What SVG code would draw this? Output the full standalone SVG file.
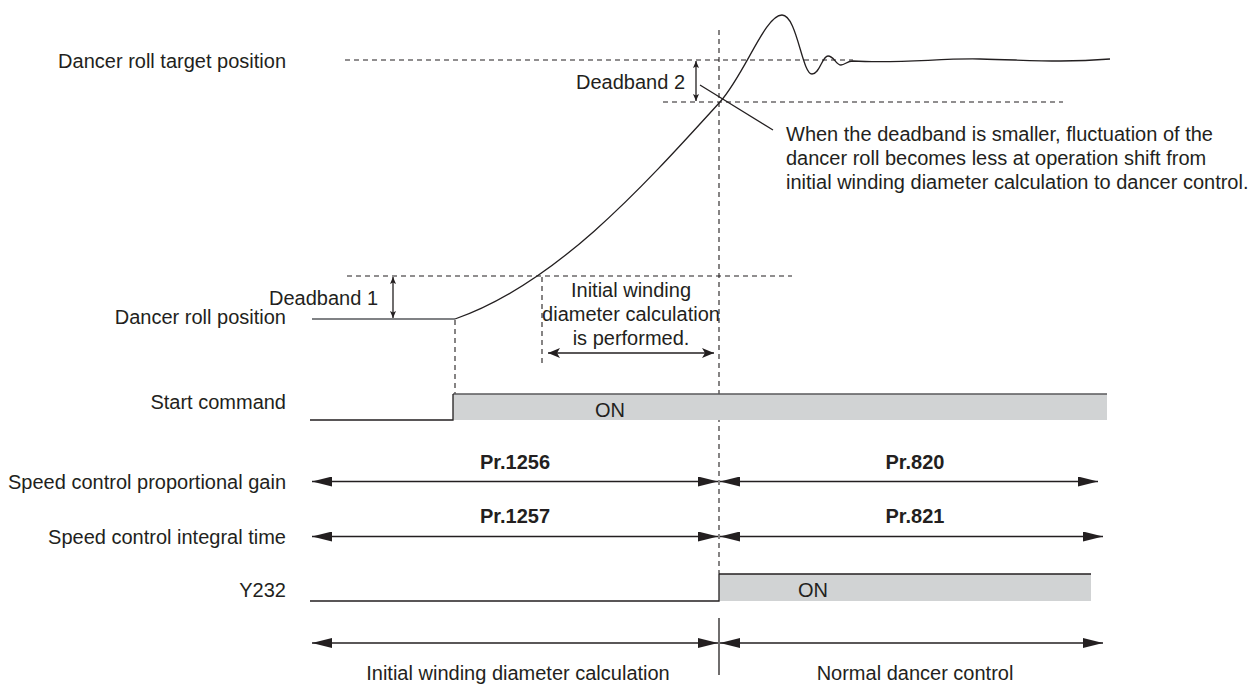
<svg xmlns="http://www.w3.org/2000/svg" width="1248" height="684" viewBox="0 0 1248 684">
  <defs>
    <style>
      text{font-family:"Liberation Sans",Arial,Helvetica,sans-serif;font-size:20px;fill:#231f20}
      .r{text-anchor:end}
      .m{text-anchor:middle}
      .b{font-weight:bold}
      .ln{stroke:#231f20;stroke-width:1.3;fill:none}
      .dash{stroke:#231f20;stroke-width:1.1;stroke-dasharray:5 4;fill:none}
      .on{fill:#d1d3d4}
      .span{stroke:#231f20;stroke-width:1.4;fill:none;marker-start:url(#big);marker-end:url(#big)}
    </style>
    <marker id="big" viewBox="0 0 20 10" refX="20" refY="5" markerWidth="20" markerHeight="10" markerUnits="userSpaceOnUse" orient="auto-start-reverse">
      <path d="M0,0 L20,5 L0,10 z" fill="#231f20"/>
    </marker>
    <marker id="mid" viewBox="0 0 12 10" refX="12" refY="5" markerWidth="12" markerHeight="10" markerUnits="userSpaceOnUse" orient="auto-start-reverse">
      <path d="M0,0 L12,5 L0,10 L3,5 z" fill="#231f20"/>
    </marker>
    <marker id="sm" viewBox="0 0 7 6" refX="7" refY="3" markerWidth="7" markerHeight="6" markerUnits="userSpaceOnUse" orient="auto-start-reverse">
      <path d="M0,0 L7,3 L0,6 L1.5,3 z" fill="#231f20"/>
    </marker>
  </defs>

  <!-- row labels -->
  <g id="row-labels">
    <text class="r" x="286" y="67.5">Dancer roll target position</text>
    <text class="r" x="286" y="324">Dancer roll position</text>
    <text class="r" x="286" y="409">Start command</text>
    <text class="r" x="286" y="488.5">Speed control proportional gain</text>
    <text class="r" x="286" y="543.5">Speed control integral time</text>
    <text class="r" x="286" y="597">Y232</text>
  </g>

  <!-- reference levels and timing guides -->
  <g id="guides">
    <line class="dash" x1="345" y1="60" x2="853" y2="60"/>
    <line class="dash" x1="663" y1="102" x2="1063" y2="102"/>
    <line class="dash" x1="347" y1="276" x2="792" y2="276"/>
    <line class="dash" x1="719" y1="30" x2="719" y2="574"/>
    <line class="dash" x1="455" y1="320" x2="455" y2="394"/>
    <line class="dash" x1="542" y1="277" x2="542" y2="366"/>
  </g>

  <!-- dancer roll position trace -->
  <g id="dancer-trace">
    <line x1="312" y1="319" x2="455" y2="319" stroke="#808285" stroke-width="2"/>
    <path class="ln" stroke-width="1.2" d="M455,319 C555,284 640,190 720,102 C745,74 765,15 782,15 C797,15 802,74 812,74 C820,74 822,56 828,56 C834,56 836,65 841,65 C845,65 847,61 853,61 C900,64 940,58 980,59 C1030,60 1060,63 1110,59"/>
  </g>

  <!-- deadband 1 -->
  <g id="deadband-1">
    <line class="ln" stroke-width="1.1" x1="393" y1="277" x2="393" y2="318" marker-start="url(#sm)" marker-end="url(#sm)"/>
    <text class="r" x="378" y="305">Deadband 1</text>
  </g>

  <!-- deadband 2 with note -->
  <g id="deadband-2">
    <line class="ln" stroke-width="1.1" x1="696" y1="61" x2="696" y2="101" marker-start="url(#sm)" marker-end="url(#sm)"/>
    <text class="r" x="685" y="89">Deadband 2</text>
    <line class="ln" stroke-width="1.1" x1="700" y1="85" x2="773" y2="130"/>
    <text x="786" y="141">When the deadband is smaller, fluctuation of the</text>
    <text x="786" y="165">dancer roll becomes less at operation shift from</text>
    <text x="786" y="189">initial winding diameter calculation to dancer control.</text>
  </g>

  <!-- initial calculation interval -->
  <g id="calc-interval">
    <text class="m" x="631" y="297">Initial winding</text>
    <text class="m" x="631" y="321">diameter calculation</text>
    <text class="m" x="631" y="345">is performed.</text>
    <line class="ln" x1="548" y1="353" x2="714" y2="353" marker-start="url(#mid)" marker-end="url(#mid)"/>
  </g>

  <!-- start command signal -->
  <g id="start-command">
    <rect class="on" x="453" y="394" width="654" height="26"/>
    <line x1="453" y1="394" x2="1107" y2="394" stroke="#58595b" stroke-width="1.4"/>
    <path class="ln" d="M310,420 H453 V394"/>
    <text class="m" x="610" y="416.5">ON</text>
  </g>

  <!-- speed control gain settings -->
  <g id="speed-gain">
    <text class="m b" x="515" y="469">Pr.1256</text>
    <text class="m b" x="915" y="469">Pr.820</text>
    <line class="span" x1="312" y1="481.5" x2="718" y2="481.5"/>
    <line class="span" x1="720" y1="481.5" x2="1098" y2="481.5"/>
  </g>

  <g id="speed-integral">
    <text class="m b" x="515" y="523">Pr.1257</text>
    <text class="m b" x="915" y="523">Pr.821</text>
    <line class="span" x1="312" y1="536.5" x2="718" y2="536.5"/>
    <line class="span" x1="720" y1="536.5" x2="1103" y2="536.5"/>
  </g>

  <!-- Y232 signal -->
  <g id="y232">
    <rect class="on" x="719" y="574" width="372" height="27"/>
    <line x1="719" y1="574" x2="1091" y2="574" stroke="#231f20" stroke-width="1.3"/>
    <path class="ln" d="M310,601 H719 V574"/>
    <text class="m" x="813" y="597">ON</text>
  </g>

  <!-- operating phases -->
  <g id="phases">
    <line class="ln" x1="719" y1="618" x2="719" y2="675"/>
    <line class="span" x1="312" y1="643" x2="718" y2="643"/>
    <line class="span" x1="720" y1="643" x2="1103" y2="643"/>
    <text class="m" x="518" y="680">Initial winding diameter calculation</text>
    <text class="m" x="915" y="680">Normal dancer control</text>
  </g>
</svg>
